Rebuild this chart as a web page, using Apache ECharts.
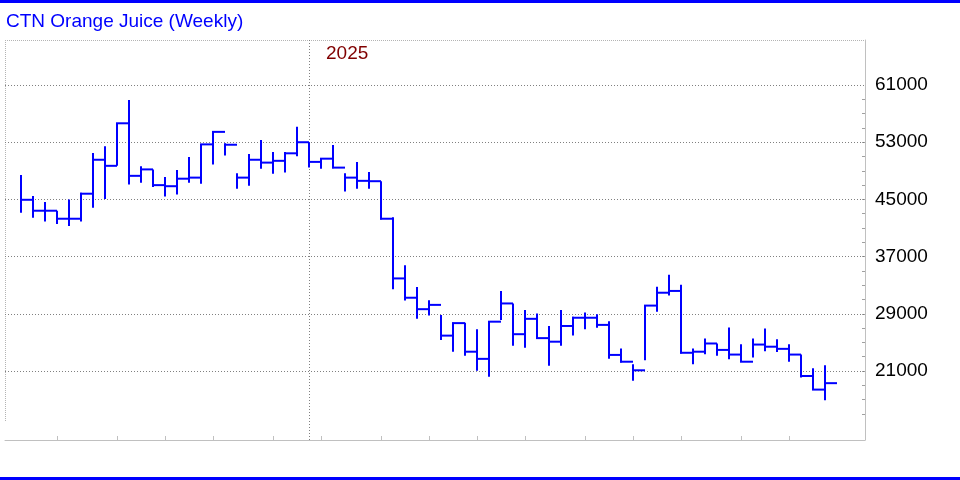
<!DOCTYPE html>
<html>
<head>
<meta charset="utf-8">
<script src="https://cdn.jsdelivr.net/npm/echarts@6.0.0/dist/echarts.min.js"></script>
<style>
  html, body { margin: 0; padding: 0; background: #ffffff; }
  #chart { width: 960px; height: 480px; }
</style>
</head>
<body>
<div id="chart"></div>
<script>
// ---- data (weekly HLC bars) ----
var weeks = [
  '2024-07-15','2024-07-22','2024-07-29','2024-08-05','2024-08-12','2024-08-19','2024-08-26','2024-09-02',
  '2024-09-09','2024-09-16','2024-09-23','2024-09-30','2024-10-07','2024-10-14','2024-10-21','2024-10-28',
  '2024-11-04','2024-11-11','2024-11-18','2024-11-25','2024-12-02','2024-12-09','2024-12-16','2024-12-23',
  '2024-12-30','2025-01-06','2025-01-13','2025-01-20','2025-01-27','2025-02-03','2025-02-10','2025-02-17',
  '2025-02-24','2025-03-03','2025-03-10','2025-03-17','2025-03-24','2025-03-31','2025-04-07','2025-04-14',
  '2025-04-21','2025-04-28','2025-05-05','2025-05-12','2025-05-19','2025-05-26','2025-06-02','2025-06-09',
  '2025-06-16','2025-06-23','2025-06-30','2025-07-07','2025-07-14','2025-07-21','2025-07-28','2025-08-04',
  '2025-08-11','2025-08-18','2025-08-25','2025-09-01','2025-09-08','2025-09-15','2025-09-22','2025-09-29',
  '2025-10-06','2025-10-13','2025-10-20','2025-10-27'
];
var highs = [
  48400, 45480, 44650, 43420, 45000, 45950, 51500, 52450, 55650, 58900, 49650, 49200,
  48150, 49100, 50950, 52700, 54450, 52850, 48650, 51350, 53300, 51650, 51650, 55150,
  53000, 50750, 52600, 48650, 50250, 48850, 47550, 42500, 35800, 32750, 30900, 28850,
  27750, 27750, 26850, 27900, 32200, 30450, 29550, 29050, 27300, 29550, 28600, 29200,
  28950, 27950, 24150, 21950, 30150, 32800, 34450, 33050, 24150, 25550, 24850, 27100,
  24750, 25550, 26950, 25450, 24750, 23300, 21400, 21800
];
var lows = [
  43150, 42450, 41900, 41550, 41300, 41900, 43850, 45050, 49700, 47100, 47350, 46750,
  45400, 45700, 47350, 47200, 49900, 51150, 46500, 46900, 49300, 48600, 48750, 51050,
  49450, 49300, 49350, 46100, 46500, 46500, 42200, 32450, 30850, 28300, 28750, 25350,
  23700, 23150, 21050, 20200, 28150, 24550, 24250, 25550, 21750, 24550, 25950, 26850,
  27050, 22700, 22200, 19650, 22500, 29300, 31550, 23450, 21950, 23350, 23150, 22650,
  22300, 22900, 23750, 23650, 22300, 20100, 18350, 16900
];
var closes = [
  44950, 43420, 43420, 42300, 42300, 45800, 50550, 49700, 55650, 48300, 49200, 47000,
  46850, 47900, 48050, 52700, 54450, 52650, 48050, 50550, 50150, 50400, 51450, 53000,
  50250, 50700, 49450, 48050, 47600, 47550, 42300, 33950, 31250, 29650, 30250, 25950,
  27700, 23700, 22700, 27900, 30450, 26150, 28300, 25600, 25100, 27300, 28450, 28450,
  27450, 23250, 22300, 21100, 30150, 31950, 32200, 23550, 23700, 24850, 23950, 23300,
  22300, 24700, 24400, 24100, 23300, 20300, 18400, 19300
];
var yLabelValues = [21000, 29000, 37000, 45000, 53000, 61000];
var yMinorTicks = [15000, 17000, 19000, 21000, 23000, 25000, 27000, 29000, 31000, 33000, 35000, 37000,
  39000, 41000, 43000, 45000, 47000, 49000, 51000, 53000, 55000, 57000, 59000];
var xTickWeeks = [3, 8, 12, 16, 21, 25, 30, 34, 38, 42, 47, 51, 55, 60, 64];
var yearStartWeek = 24;
var yearLabel = '2025';
var chartTitle = 'CTN Orange Juice (Weekly)';

// ---- build ----
var barData = weeks.map(function (w, i) { return [i, highs[i], lows[i], closes[i], w]; });

var chart = echarts.init(document.getElementById('chart'), null, { renderer: 'canvas' });
var FONT = 'Liberation Sans, Arial, sans-serif';

var gridMarks = yLabelValues.map(function (v) { return { yAxis: v }; });
gridMarks.push({ xAxis: yearStartWeek });

chart.setOption({
  animation: false,
  backgroundColor: '#ffffff',
  title: [
    { text: chartTitle, left: 6, top: 12, padding: 0,
      textStyle: { color: '#0000ff', fontSize: 19, fontWeight: 'normal', fontFamily: FONT } },
    { text: yearLabel, left: 326, top: 44, padding: 0,
      textStyle: { color: '#800000', fontSize: 19, fontWeight: 'normal', fontFamily: FONT } }
  ],
  graphic: [
    { type: 'rect', left: 0, top: 0, shape: { width: 960, height: 3 }, style: { fill: '#0000ff' }, z: 100 },
    { type: 'rect', left: 0, top: 477, shape: { width: 960, height: 3 }, style: { fill: '#0000ff' }, z: 100 },
    { type: 'line', shape: { x1: 5, y1: 40.5, x2: 865, y2: 40.5 },
      style: { stroke: '#b4b4b4', lineWidth: 1, lineDash: [1, 1] }, z: 0 },
    { type: 'line', shape: { x1: 5.5, y1: 40, x2: 5.5, y2: 421 },
      style: { stroke: '#b4b4b4', lineWidth: 1, lineDash: [1, 1] }, z: 0 }
  ],
  grid: { left: 5, right: 95, top: 40, bottom: 40, containLabel: false },
  xAxis: {
    type: 'value',
    min: -4 / 3,
    max: 211 / 3,
    axisLine: { show: true, onZero: false, lineStyle: { color: '#c0c0c0', width: 1 } },
    axisTick: { show: true, inside: true, length: 4, customValues: xTickWeeks,
      lineStyle: { color: '#c0c0c0', width: 1 } },
    axisLabel: { show: false },
    splitLine: { show: false }
  },
  yAxis: {
    type: 'value',
    position: 'right',
    min: 11350,
    max: 67300,
    axisLine: { show: true, onZero: false, lineStyle: { color: '#c0c0c0', width: 1 } },
    axisTick: { show: true, inside: true, length: 3, customValues: yMinorTicks,
      lineStyle: { color: '#a0a0a0', width: 1 } },
    axisLabel: { show: true, customValues: yLabelValues, margin: 10, color: '#000000',
      fontSize: 19, fontFamily: FONT,
      formatter: function (v) { return String(Math.round(v)); } },
    splitLine: { show: false }
  },
  series: [
    {
      type: 'line',
      data: [],
      silent: true,
      z: 1,
      markLine: {
        silent: true,
        symbol: ['none', 'none'],
        label: { show: false },
        lineStyle: { color: '#808080', width: 1, type: [1, 2] },
        emphasis: { disabled: true },
        data: gridMarks
      }
    },
    {
      type: 'custom',
      z: 5,
      clip: true,
      data: barData,
      renderItem: function (params, api) {
        var x = api.value(0);
        var pHi = api.coord([x, api.value(1)]);
        var pLo = api.coord([x, api.value(2)]);
        var pCl = api.coord([x, api.value(3)]);
        var w = api.size([1, 0])[0];
        var st = { stroke: '#0000ff', lineWidth: 2, fill: null };
        return {
          type: 'group',
          children: [
            { type: 'line', shape: { x1: pHi[0], y1: pHi[1], x2: pLo[0], y2: pLo[1] }, style: st },
            { type: 'line', shape: { x1: pCl[0] - 1, y1: pCl[1], x2: pCl[0] + w, y2: pCl[1] }, style: st }
          ]
        };
      }
    }
  ]
});
</script>
</body>
</html>
